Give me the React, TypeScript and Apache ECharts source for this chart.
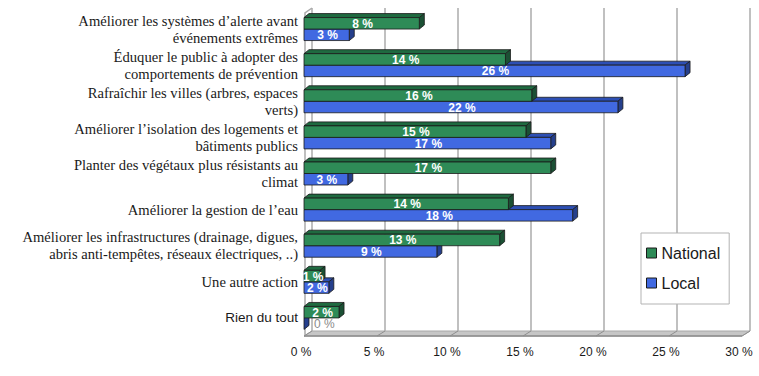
import React, { useEffect, useRef } from 'react';
import * as echarts from 'echarts';

const categories = [
  'Améliorer les systèmes d’alerte avant\névénements extrêmes',
  'Éduquer le public à adopter des\ncomportements de prévention',
  'Rafraîchir les villes (arbres, espaces\nverts)',
  'Améliorer l’isolation des logements et\nbâtiments publics',
  'Planter des végétaux plus résistants au\nclimat',
  'Améliorer la gestion de l’eau',
  'Améliorer les infrastructures (drainage, digues,\nabris anti-tempêtes, réseaux électriques, ..)',
  'Une autre action',
  'Rien du tout',
];
const nationalValues = [7.9, 13.8, 15.6, 15.2, 16.9, 14.0, 13.4, 1.1, 2.4];
const localValues = [3.1, 26.1, 21.5, 16.9, 3.0, 18.4, 9.1, 1.7, 0];
const seriesNames = ['National', 'Local'];
const axisMin = 0;
const axisMax = 30;
const axisStep = 5;

// layout / style constants
const FRONT_LEFT = 304;
const FRONT_RIGHT = 742;
const FRONT_TOP = 11;
const FRONT_BOTTOM = 336;
const DEPTH_X = 8;
const DEPTH_Y = -5;
const BAR_DX = 5;
const BAR_DY = -4;
const BAR_H = 11.5;
const GREEN = '#2e8b57';
const GREEN_TOP = '#1f6a40';
const GREEN_SIDE = '#1b5034';
const BLUE = '#4169e1';
const BLUE_TOP = '#2d4fb4';
const BLUE_SIDE = '#253f8c';
const GRID_GRAY = '#ababab';

function makeRender(kind: 'n' | 'l', front: string, top: string, side: string) {
  return (params: any, api: any) => {
    const cat = api.value(0);
    const v = api.value(1);
    const a = api.coord([0, cat]);
    const b = api.coord([v, cat]);
    const x0 = a[0];
    const x1 = b[0];
    const y = kind === 'n' ? a[1] - BAR_H : a[1];
    const h = BAR_H;
    const stroke = '#1a1a1a';
    const lw = 0.8;
    const children: any[] = [
      {
        type: 'polygon',
        shape: { points: [[x0, y], [x1, y], [x1 + BAR_DX, y + BAR_DY], [x0 + BAR_DX, y + BAR_DY]] },
        style: { fill: top, stroke, lineWidth: lw },
      },
      {
        type: 'polygon',
        shape: { points: [[x1, y], [x1 + BAR_DX, y + BAR_DY], [x1 + BAR_DX, y + h + BAR_DY], [x1, y + h]] },
        style: { fill: side, stroke, lineWidth: lw },
      },
      {
        type: 'rect',
        shape: { x: x0, y, width: Math.max(0, x1 - x0), height: h },
        style: { fill: front, stroke: x1 - x0 > 0.5 ? stroke : 'none', lineWidth: lw },
      },
    ];
    const label = Math.round(v) + ' %';
    if (v < 0.5) {
      children.push({
        type: 'text',
        x: x0 + 10,
        y: y + h / 2 + 0.5,
        z2: 10,
        style: {
          text: label,
          fill: '#8a8a8a',
          fontFamily: 'Liberation Sans',
          fontSize: 12,
          align: 'left',
          verticalAlign: 'middle',
        },
      });
    } else {
      children.push({
        type: 'text',
        x: (x0 + x1) / 2 + 1,
        y: y + h / 2 + 0.5,
        z2: 10,
        style: {
          text: label,
          fill: '#ffffff',
          fontFamily: 'Liberation Sans',
          fontWeight: 'bold',
          fontSize: 12,
          align: 'center',
          verticalAlign: 'middle',
        },
      });
    }
    return { type: 'group', children };
  };
}

export default function App() {
  const ref = useRef<HTMLDivElement>(null);
  useEffect(() => {
    if (!ref.current) return;
    const chart = echarts.init(ref.current, null, { renderer: 'svg' });
    const ticks: number[] = [];
    for (let t = axisMin; t <= axisMax; t += axisStep) ticks.push(t);
    const pxPer = (FRONT_RIGHT - FRONT_LEFT) / (axisMax - axisMin);
    const floorMarks = ticks.map((t) => ({
      type: 'line',
      z: 1,
      shape: {
        x1: FRONT_LEFT + t * pxPer,
        y1: FRONT_BOTTOM,
        x2: FRONT_LEFT + t * pxPer + DEPTH_X,
        y2: FRONT_BOTTOM + DEPTH_Y,
      },
      style: { stroke: '#8f8f8f', lineWidth: 1 },
    }));
    chart.setOption({
      animation: false,
      backgroundColor: '#ffffff',
      grid: [
        { left: FRONT_LEFT, top: FRONT_TOP, width: FRONT_RIGHT - FRONT_LEFT, height: FRONT_BOTTOM - FRONT_TOP },
        {
          left: FRONT_LEFT + DEPTH_X,
          top: FRONT_TOP + DEPTH_Y + 2,
          width: FRONT_RIGHT - FRONT_LEFT,
          height: FRONT_BOTTOM - FRONT_TOP - 2,
        },
      ],
      xAxis: [
        {
          type: 'value',
          gridIndex: 0,
          min: axisMin,
          max: axisMax,
          interval: axisStep,
          axisLine: { show: false },
          axisTick: { show: false },
          splitLine: { show: false },
          axisLabel: {
            formatter: '{value} %',
            fontFamily: 'Liberation Sans',
            fontSize: 12,
            color: '#1a1a1a',
            margin: 10,
            padding: [0, 6, 0, 0],
          },
        },
        {
          type: 'value',
          gridIndex: 1,
          min: axisMin,
          max: axisMax,
          interval: axisStep,
          axisLine: { show: false },
          axisTick: { show: false },
          axisLabel: { show: false },
          splitLine: { show: true, lineStyle: { color: GRID_GRAY, width: 1.5 } },
        },
      ],
      yAxis: [
        {
          type: 'category',
          gridIndex: 0,
          data: categories,
          inverse: true,
          axisLine: { show: false },
          axisTick: { show: false },
          splitLine: { show: false },
          axisLabel: {
            margin: 6,
            fontFamily: 'Liberation Serif',
            fontSize: 14.6,
            lineHeight: 17,
            color: '#1a1a1a',
            formatter: (v: string) => (v === 'Rien du tout' ? '{s|' + v + '}' : v),
            rich: { s: { fontFamily: 'Liberation Sans', fontSize: 13.5, color: '#1a1a1a' } },
          },
        },
        { type: 'value', gridIndex: 1, show: false },
      ],
      legend: {
        orient: 'vertical',
        left: 641,
        top: 233,
        padding: [12, 9, 13, 5],
        itemGap: 14,
        itemWidth: 10,
        itemHeight: 10,
        icon: 'rect',
        backgroundColor: '#ffffff',
        borderColor: '#b3b3b3',
        borderWidth: 1,
        textStyle: { fontFamily: 'Liberation Sans', fontSize: 16, color: '#1a1a1a' },
        data: [
          { name: seriesNames[0], itemStyle: { color: GREEN, borderColor: '#1a1a1a', borderWidth: 1 } },
          { name: seriesNames[1], itemStyle: { color: BLUE, borderColor: '#1a1a1a', borderWidth: 1 } },
        ],
      },
      graphic: [
        {
          type: 'polygon',
          z: 0,
          shape: {
            points: [
              [FRONT_LEFT, FRONT_BOTTOM],
              [FRONT_RIGHT, FRONT_BOTTOM],
              [FRONT_RIGHT + DEPTH_X, FRONT_BOTTOM + DEPTH_Y],
              [FRONT_LEFT + DEPTH_X, FRONT_BOTTOM + DEPTH_Y],
            ],
          },
          style: { fill: '#c6c6c6', stroke: '#a8a8a8', lineWidth: 1 },
        },
        {
          type: 'line',
          z: 1,
          shape: { x1: FRONT_LEFT, y1: FRONT_BOTTOM, x2: FRONT_RIGHT, y2: FRONT_BOTTOM },
          style: { stroke: '#8c8c8c', lineWidth: 1.5 },
        },
        {
          type: 'polyline',
          z: 0,
          shape: {
            points: [
              [FRONT_LEFT + 1, FRONT_BOTTOM],
              [FRONT_LEFT + 1, FRONT_TOP + 2],
              [FRONT_LEFT + DEPTH_X, FRONT_TOP + DEPTH_Y + 2],
            ],
          },
          style: { stroke: GRID_GRAY, lineWidth: 1.5, fill: 'none' },
        },
        ...floorMarks,
      ],
      series: [
        {
          name: seriesNames[1],
          type: 'custom',
          xAxisIndex: 0,
          yAxisIndex: 0,
          z: 2,
          clip: false,
          itemStyle: { color: BLUE },
          encode: { x: 1, y: 0 },
          renderItem: makeRender('l', BLUE, BLUE_TOP, BLUE_SIDE),
          data: localValues.map((v, i) => [i, v]),
        },
        {
          name: seriesNames[0],
          type: 'custom',
          xAxisIndex: 0,
          yAxisIndex: 0,
          z: 3,
          clip: false,
          itemStyle: { color: GREEN },
          encode: { x: 1, y: 0 },
          renderItem: makeRender('n', GREEN, GREEN_TOP, GREEN_SIDE),
          data: nationalValues.map((v, i) => [i, v]),
        },
      ],
    });
    return () => chart.dispose();
  }, []);
  return (
    <div
      ref={ref}
      style={{ position: 'absolute', left: 0, top: 0, width: 759, height: 376 }}
    />
  );
}
